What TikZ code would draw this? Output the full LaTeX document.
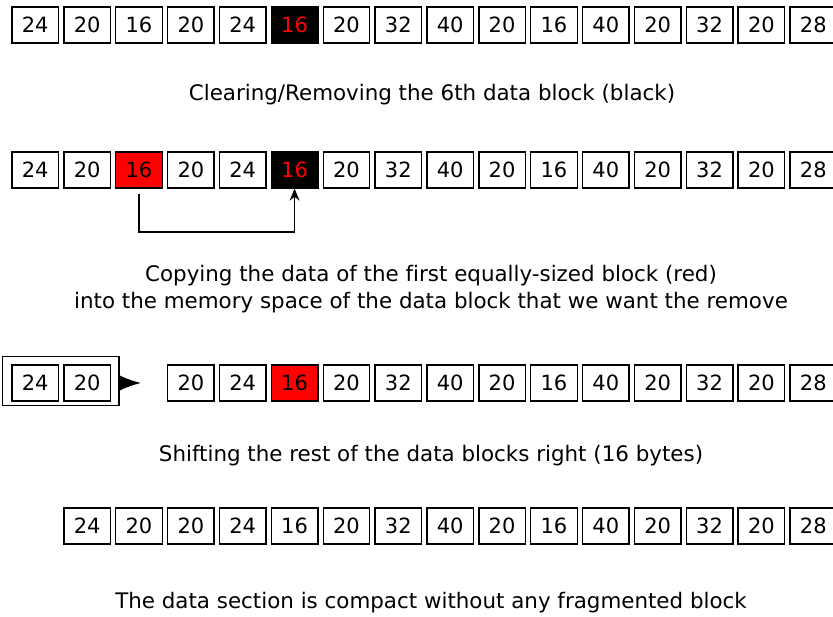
\documentclass[tikz,border=0pt]{standalone}
\usepackage{fontspec}
\setmainfont[Ligatures=NoCommon]{DejaVu Sans}
\usetikzlibrary{arrows.meta}
\begin{document}
\begin{tikzpicture}[x=1pt,y=-1pt,
  cell/.style={draw, line width=1.4pt, minimum width=46.5pt, minimum height=36pt,
    inner sep=0pt, font=\fontsize{21}{24}\selectfont, text height=15.3pt, text depth=0pt},
  gone/.style={cell, fill=black, text=red},
  pick/.style={cell, fill=red},
  caption/.style={font=\fontsize{21.4}{27}\selectfont, align=center},
  link/.style={line width=1.4pt}]
\useasboundingbox (0,0) rectangle (833,617);

% Row 1: the block to be removed (black)
\foreach \v/\s [count=\i from 0] in {24/cell,20/cell,16/cell,20/cell,24/cell,16/gone,20/cell,32/cell,40/cell,20/cell,16/cell,40/cell,20/cell,32/cell,20/cell,28/cell}
  \node[\s] (a\i) at ({35.25+51.87*\i},25) {\v};
\node[caption] (c1) at (432,95) {Clearing/Removing the 6th data block (black)};

% Row 2: copy the first equally-sized block (red) over it
\foreach \v/\s [count=\i from 0] in {24/cell,20/cell,16/pick,20/cell,24/cell,16/gone,20/cell,32/cell,40/cell,20/cell,16/cell,40/cell,20/cell,32/cell,20/cell,28/cell}
  \node[\s] (b\i) at ({35.25+51.87*\i},170) {\v};
\coordinate (turn) at (0,232);
\draw[link, -{Stealth[length=12pt,width=10pt]}, shorten <=5pt]
  (b2.south) -- (b2.south |- turn) -| (b5.south);
\node[caption] (c2) at (431,289.5) {Copying the data of the first equally-sized block (red)\\into the memory space of the data block that we want the remove};

% Row 3: shift the leading blocks right
\node[cell] (d0) at (35.25,383) {24};
\node[cell] (d1) at (87.12,383) {20};
\draw[line width=1.5pt] ([xshift=-9pt,yshift=8pt]d0.north west) coordinate (gnw)
  rectangle ([xshift=8pt,yshift=-4pt]d1.south east) coordinate (gse);
\coordinate (gout) at (gse |- d1.east);
\coordinate (gend) at (141,383);
\draw[link, -{Latex[length=21pt,width=15pt]}] (gout) -- (gend);
\foreach \v/\s [count=\i from 3] in {20/cell,24/cell,16/pick,20/cell,32/cell,40/cell,20/cell,16/cell,40/cell,20/cell,32/cell,20/cell,28/cell}
  \node[\s] (d\i) at ({35.25+51.87*\i},383) {\v};
\node[caption] (c3) at (431,456) {Shifting the rest of the data blocks right (16 bytes)};

% Row 4: compacted data section
\foreach \v [count=\i from 1] in {24,20,20,24,16,20,32,40,20,16,40,20,32,20,28}
  \node[cell] (e\i) at ({35.25+51.87*\i},526) {\v};
\node[caption] (c4) at (431,603) {The data section is compact without any fragmented block};
\end{tikzpicture}
\end{document}
